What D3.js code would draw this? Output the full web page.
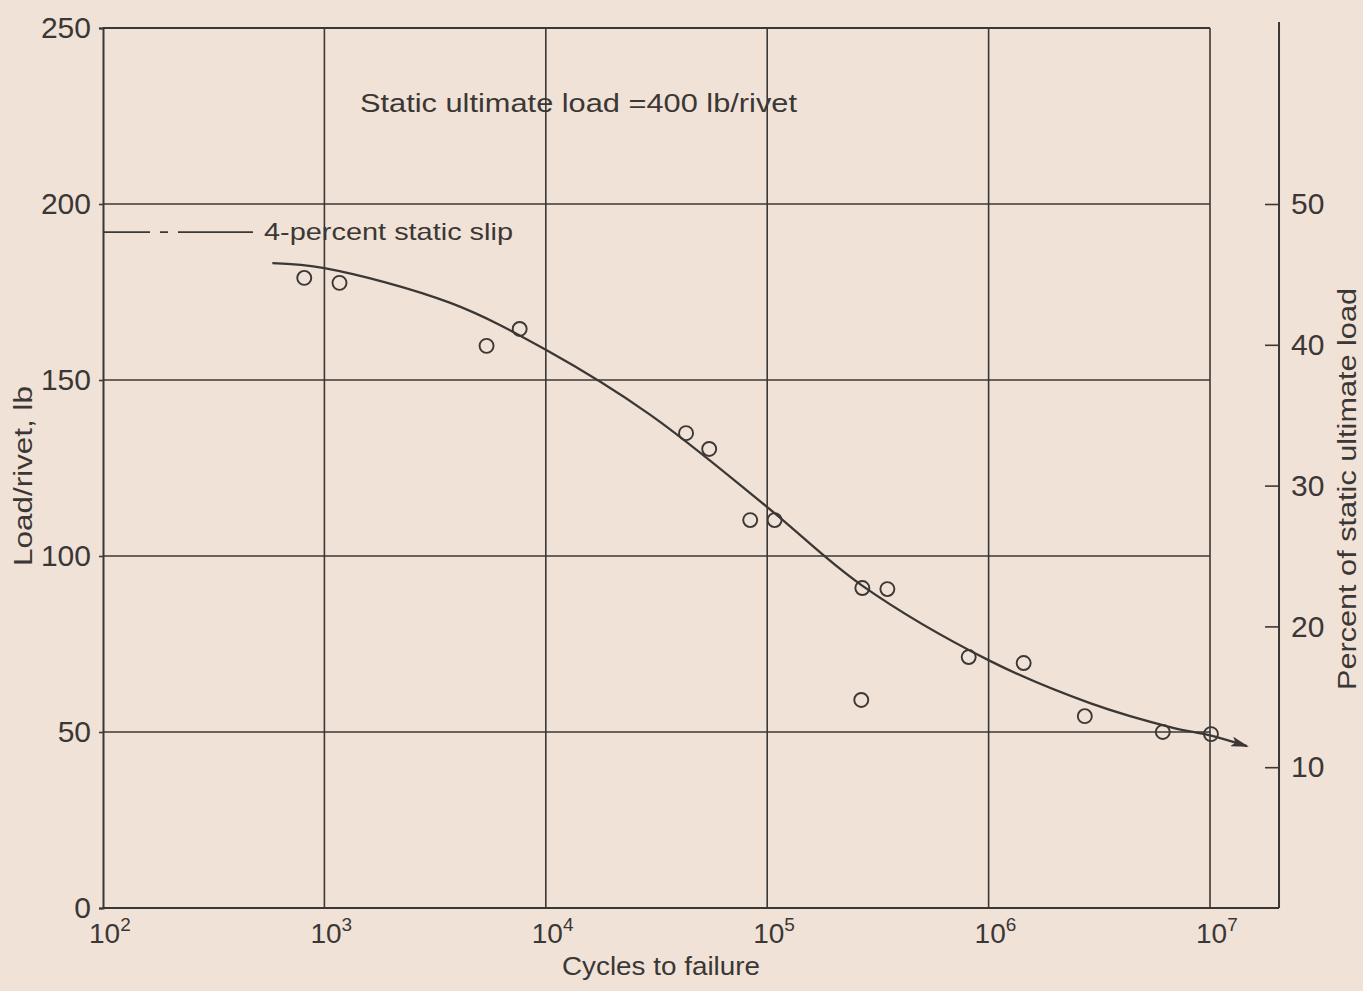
<!DOCTYPE html>
<html>
<head>
<meta charset="utf-8">
<script src="https://cdn.jsdelivr.net/npm/d3@7"></script>
<style>
  body { margin: 0; background: #f1e2d7; }
  text { font-family: "Liberation Sans", Arial, sans-serif; fill: #3b3735; }
</style>
</head>
<body>
<div id="my_dataviz"></div>
<script>
// test points (cycles to failure, load per rivet in lb)
var testCycles = [811, 1170, 5400, 7620, 43000, 54700, 83800, 108000, 269000, 349000, 266000, 813000, 1440000, 2720000, 6120000, 10100000];
var testLoads  = [179, 177.6, 159.7, 164.5, 134.9, 130.4, 110.2, 110.2, 90.9, 90.6, 59.1, 71.3, 69.6, 54.5, 50, 49.4];

// faired S-N curve, ends in the arrow past 10^7
var curveCycles = [582, 1000, 3707, 10050, 29650, 100000, 265500, 1014000, 2871000, 6808000, 9886000, 14690000];
var curveLoads  = [183.2, 181.8, 171.9, 158.5, 140.1, 113.9, 91.8, 70.2, 58.2, 51.2, 49.1, 46.0];

var xTicks = [2, 3, 4, 5, 6, 7];           // powers of ten
var yTicks = [0, 50, 100, 150, 200, 250];
var pctTicks = [10, 20, 30, 40, 50];
var staticUltimate = 400;                   // lb/rivet
var slipLoad = 192;                         // 4-percent static slip line

var svgW = 1363, svgH = 991;
var plotLeft = 103, plotRight = 1210, plotTop = 28, plotBottom = 908;
var ink = "#3b3735";

var svg = d3.select("#my_dataviz")
    .append("svg")
        .attr("width", svgW)
        .attr("height", svgH);

var x = d3.scaleLog()
    .domain([1e2, 1e7])
    .range([plotLeft, plotRight]);
var y = d3.scaleLinear()
    .domain([0, 250])
    .range([plotBottom, plotTop]);
// right hand scale is percent of the static ultimate load
var yPct = d3.scaleLinear()
    .domain([0, 250 / staticUltimate * 100])
    .range([plotBottom, plotTop]);
var rightAxisX = x(2.05e7);

// grid
svg.append("g")
    .selectAll("line")
    .data(xTicks.slice(1))
    .enter().append("line")
        .attr("x1", function(d) { return x(Math.pow(10, d)); })
        .attr("x2", function(d) { return x(Math.pow(10, d)); })
        .attr("y1", plotTop)
        .attr("y2", plotBottom)
        .attr("stroke", ink)
        .attr("stroke-width", 1.6);
svg.append("g")
    .selectAll("line")
    .data(yTicks.slice(1))
    .enter().append("line")
        .attr("x1", plotLeft)
        .attr("x2", plotRight)
        .attr("y1", function(d) { return y(d); })
        .attr("y2", function(d) { return y(d); })
        .attr("stroke", ink)
        .attr("stroke-width", 1.6);

// left axis with small outward ticks
var yAxis = svg.append("g")
    .attr("transform", "translate(" + plotLeft + ",0)")
    .call(d3.axisLeft(y).tickValues(yTicks).tickSize(4).tickPadding(8));
yAxis.select(".domain").attr("stroke", ink).attr("stroke-width", 2);
yAxis.selectAll(".tick line").attr("stroke", ink).attr("stroke-width", 1.6);
yAxis.selectAll(".tick text")
    .style("font-size", "30px")
    .style("font-family", "Liberation Sans, Arial, sans-serif")
    .attr("fill", ink);

// bottom axis line runs out to the percent axis
svg.append("line")
    .attr("x1", plotLeft).attr("x2", rightAxisX)
    .attr("y1", plotBottom).attr("y2", plotBottom)
    .attr("stroke", ink).attr("stroke-width", 2.2);

// right percent axis
var pAxis = svg.append("g")
    .attr("transform", "translate(" + rightAxisX + ",0)")
    .call(d3.axisRight(yPct).tickValues(pctTicks).tickSizeInner(-14).tickSizeOuter(0).tickPadding(12));
pAxis.select(".domain").attr("stroke", ink).attr("stroke-width", 2).attr("d", "M0," + (plotTop - 6) + "V" + plotBottom);
pAxis.selectAll(".tick line").attr("stroke", ink).attr("stroke-width", 1.6);
pAxis.selectAll(".tick text")
    .style("font-size", "30px")
    .style("font-family", "Liberation Sans, Arial, sans-serif")
    .attr("fill", ink);

// x tick labels as 10 with a raised power
var xl = svg.append("g")
    .selectAll("text")
    .data(xTicks)
    .enter().append("text")
        .attr("x", function(d) { return x(Math.pow(10, d)) - 14; })
        .attr("y", 943)
        .style("font-size", "28px");
xl.append("tspan").text("10");
xl.append("tspan")
    .attr("dy", -12)
    .style("font-size", "19px")
    .text(function(d) { return d; });

// 4-percent static slip line
svg.append("line")
    .attr("x1", plotLeft).attr("x2", 253)
    .attr("y1", y(slipLoad)).attr("y2", y(slipLoad))
    .attr("stroke", ink).attr("stroke-width", 1.6)
    .attr("stroke-dasharray", "47,10,8,10,80");
svg.append("text")
    .attr("x", 264)
    .attr("y", y(slipLoad) + 8)
    .attr("textLength", 249)
    .attr("lengthAdjust", "spacingAndGlyphs")
    .style("font-size", "24px")
    .text("4-percent static slip");

svg.append("text")
    .attr("x", 360)
    .attr("y", 112)
    .attr("textLength", 437)
    .attr("lengthAdjust", "spacingAndGlyphs")
    .style("font-size", "25px")
    .text("Static ultimate load =400 lb/rivet");

// curve with arrow
svg.append("defs").append("marker")
    .attr("id", "arrow")
    .attr("viewBox", "0 0 18 10")
    .attr("refX", 16).attr("refY", 5)
    .attr("markerWidth", 18).attr("markerHeight", 10)
    .attr("markerUnits", "userSpaceOnUse")
    .attr("orient", "auto")
    .append("path")
        .attr("d", "M0,0 L18,5 L0,10 L4,5 z")
        .attr("fill", ink);

var curveData = curveCycles.map(function(c, i) { return [c, curveLoads[i]]; });
svg.append("path")
    .datum(curveData)
    .attr("fill", "none")
    .attr("stroke", ink)
    .attr("stroke-width", 2.3)
    .attr("marker-end", "url(#arrow)")
    .attr("d", d3.line()
        .x(function(d) { return x(d[0]); })
        .y(function(d) { return y(d[1]); })
        .curve(d3.curveCatmullRom.alpha(0.5)));

// open circles for the tests
svg.append("g")
    .selectAll("circle")
    .data(testCycles)
    .enter().append("circle")
        .attr("cx", function(d) { return x(d); })
        .attr("cy", function(d, i) { return y(testLoads[i]); })
        .attr("r", 7)
        .attr("fill", "none")
        .attr("stroke", ink)
        .attr("stroke-width", 1.9);

// axis titles
svg.append("text")
    .attr("text-anchor", "middle")
    .attr("x", 661)
    .attr("y", 975)
    .attr("textLength", 198)
    .attr("lengthAdjust", "spacingAndGlyphs")
    .style("font-size", "25px")
    .text("Cycles to failure");

svg.append("text")
    .attr("text-anchor", "middle")
    .attr("transform", "translate(32,476) rotate(-90)")
    .attr("textLength", 180)
    .attr("lengthAdjust", "spacingAndGlyphs")
    .style("font-size", "25px")
    .text("Load/rivet, lb");

svg.append("text")
    .attr("text-anchor", "middle")
    .attr("transform", "translate(1356,489) rotate(-90)")
    .attr("textLength", 402)
    .attr("lengthAdjust", "spacingAndGlyphs")
    .style("font-size", "25px")
    .text("Percent of static ultimate load");

// top frame line
svg.append("line")
    .attr("x1", plotLeft).attr("x2", plotRight)
    .attr("y1", plotTop).attr("y2", plotTop)
    .attr("stroke", ink).attr("stroke-width", 1.8);
</script>
</body>
</html>
